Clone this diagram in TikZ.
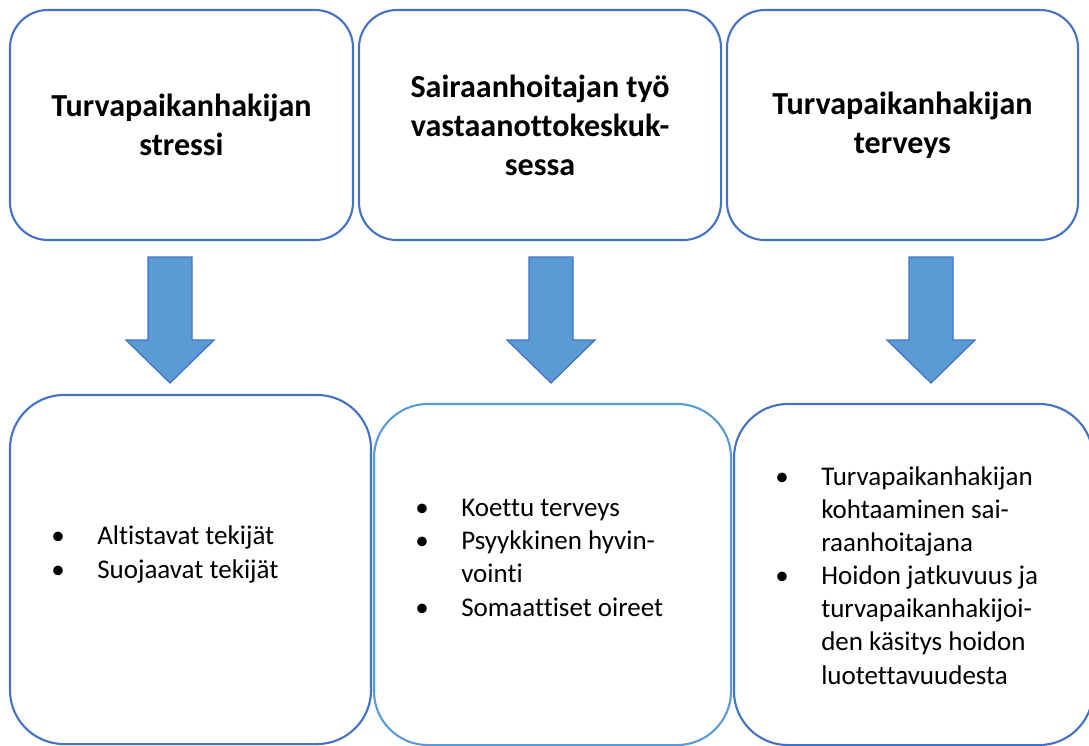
\documentclass[tikz,border=0pt]{standalone}
\usepackage{fontspec}
\setmainfont{Carlito}[Ligatures={NoCommon}]
\definecolor{boxblue}{HTML}{4472C4}
\definecolor{lightblue}{HTML}{5B9BD5}
\newcommand{\boxhead}{\fontsize{22.8}{27.7}\selectfont\bfseries}
\newcommand{\boxlist}{\fontsize{19.2}{23.5}\selectfont}
\newcommand{\bul}{\makebox[32.7pt][l]{\textbullet}}
\newcommand{\cont}{\hspace*{32.7pt}}

\begin{document}
\begin{tikzpicture}[x=0.025cm, y=-0.025cm,
    headbox/.style={draw=boxblue, line width=1.5pt, rounded corners=0.95cm, align=center, font=\boxhead},
    listbox/.style={draw=boxblue, line width=1.5pt, rounded corners=1.35cm},
    listtext/.style={anchor=base west, align=left, inner sep=0pt, font=\boxlist},
    blockarrow/.style={fill=lightblue, draw=boxblue, line width=0.9pt}]
    \useasboundingbox (0,0) rectangle (1089,745);
    \clip (0,0) rectangle (1089,745);

    % upper row
    \node[headbox, minimum width=8.575cm, minimum height=5.75cm] (stress) at (181.5,125) {Turvapaikanhakijan\\stressi};
    \node[headbox, minimum width=9.05cm, minimum height=5.75cm] (nurse) at (540,125) {Sairaanhoitajan työ\\vastaanottokeskuk-\\sessa};
    \node[headbox, minimum width=8.775cm, minimum height=5.75cm] (health) at (902.5,125) {Turvapaikanhakijan\\terveys};

    % arrows
    \foreach \ax in {170, 551, 931}
        \draw[blockarrow] (\ax-22,257) -- (\ax+22,257) -- (\ax+22,340) -- (\ax+44,340)
            -- (\ax,383) -- (\ax-44,340) -- (\ax-22,340) -- cycle;

    % lower row
    \node[listbox, minimum width=9.025cm, minimum height=8.725cm] (stresslist) at (190.5,569.5) {};
    \node[listbox, draw=lightblue, minimum width=8.925cm, minimum height=8.525cm] (nurselist) at (552.5,574.5) {};
    \node[listbox, minimum width=8.975cm, minimum height=8.525cm] (healthlist) at (913.5,574.5) {};

    % base = last line
    \node[listtext] (stresstext) at (51,578) {\bul Altistavat tekijät\\\bul Suojaavat tekijät};
    \node[listtext] (nursetext) at (415,616) {\bul Koettu terveys\\\bul Psyykkinen hyvin-\\\cont vointi\\\bul Somaattiset oireet};
    \node[listtext] (healthtext) at (775,684) {\bul Turvapaikanhakijan\\\cont kohtaaminen sai-\\\cont raanhoitajana\\\bul Hoidon jatkuvuus ja\\\cont turvapaikanhakijoi-\\\cont den käsitys hoidon\\\cont luotettavuudesta};
\end{tikzpicture}
\end{document}
